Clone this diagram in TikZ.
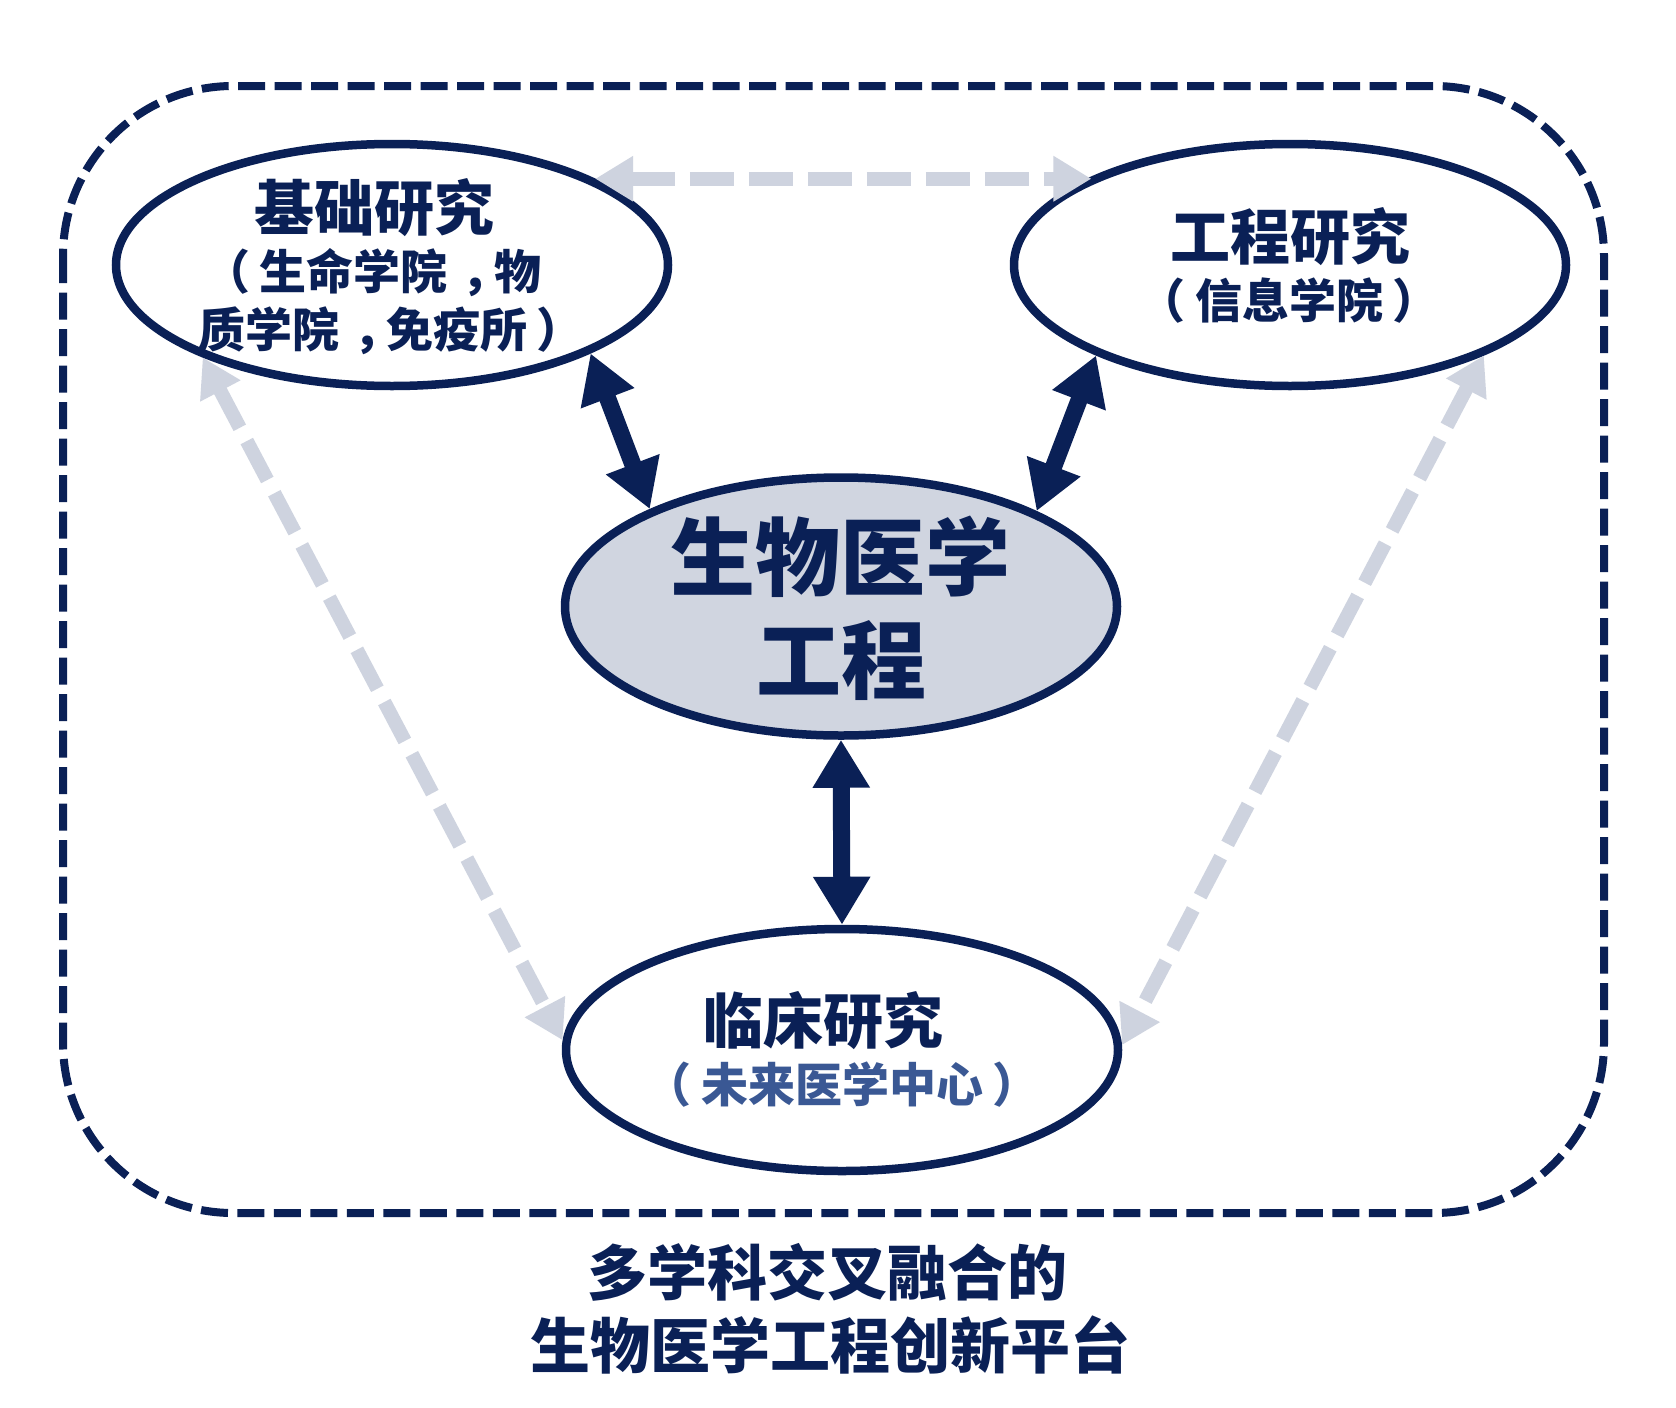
\documentclass[tikz,border=0pt]{standalone}
\usepackage{fontspec}
\setmainfont{Noto Sans CJK SC}
\usetikzlibrary{arrows.meta,shapes.geometric}
\definecolor{navy}{HTML}{0A2056}
\definecolor{lgray}{HTML}{CED3DF}
\definecolor{cfill}{HTML}{D0D5E0}
\definecolor{subblue}{HTML}{3A5894}
\newcommand\lpar{\hspace*{-0.2em}（\hspace*{0.2em}}
\newcommand\rpar{\hspace*{0.2em}）\hspace*{-0.2em}}
\newcommand\cma{\hspace*{0.3em}，\hspace*{-0.3em}}
\begin{document}
\begin{tikzpicture}[x=1pt,y=-1pt,
  ell/.style={ellipse, draw=navy, line width=8.5pt, minimum width=552pt, minimum height=242pt, inner sep=0pt, fill=white},
  ttl/.style={text=navy, font=\bfseries\fontsize{60}{60}\selectfont, anchor=base, inner sep=0pt},
  sub/.style={text=navy, font=\bfseries\fontsize{47}{47}\selectfont, anchor=base, inner sep=0pt},
  big/.style={text=navy, font=\bfseries\fontsize{85}{85}\selectfont, anchor=base, inner sep=0pt},
  link/.style={draw=navy, line width=17pt, {Triangle[width=54pt,length=48pt]}-{Triangle[width=54pt,length=48pt]}},
  weak/.style={draw=lgray, line width=14pt, dash pattern=on 44pt off 15pt, {Triangle[width=43pt,length=38pt]}-{Triangle[width=43pt,length=38pt]}},
  frame/.style={draw=navy, line width=8pt, dash pattern=on 27pt off 9.5pt, rounded corners=170pt}]
\useasboundingbox (0,0) rectangle (1676,1408);
\fill[white] (0,0) rectangle (1676,1408);
% outer frame
\draw[frame] (63,86) rectangle (1604,1213);
% ellipses
\node[ell] (L) at (392,265) {};
\node[ell] (R) at (1290,265) {};
\node[ell, fill=cfill, minimum height=258pt] (C) at (841,606.5) {};
\node[ell] (B) at (842,1050) {};
% weak links
\draw[weak] (L.23.3) -- (R.156 |- L.23.3);
\draw[weak] (L.206.6) -- (B.178);
\draw[weak] (R.-25.4) -- (B.1.6);
% strong links
\draw[link] (L.-24.2) -- (C.153.3);
\draw[link] (R.-155.2) -- (C.26.6);
\draw[link] (C.south) -- (B.north);
% texts
\node[ttl] (Lt) at (374,230.5) {基础研究};
\node[sub] (Ls1) at (377,289.6) {\lpar 生命学院\cma 物};
\node[sub] (Ls2) at (386,347.6) {质学院\cma 免疫所\rpar};
\node[ttl] (Rt) at (1290,259.5) {工程研究};
\node[sub] (Rs) at (1289,318.6) {\lpar 信息学院\rpar};
\node[big] (Ct1) at (840,589) {生物医学};
\node[big] (Ct2) at (841,692) {工程};
\node[ttl] (Bt) at (823,1043.5) {临床研究};
\node[sub, text=subblue] (Bs) at (842,1102.6) {\lpar 未来医学中心\rpar};
\node[ttl] (F1) at (827,1295.5) {多学科交叉融合的};
\node[ttl] (F2) at (830,1368.5) {生物医学工程创新平台};
\end{tikzpicture}
\end{document}
